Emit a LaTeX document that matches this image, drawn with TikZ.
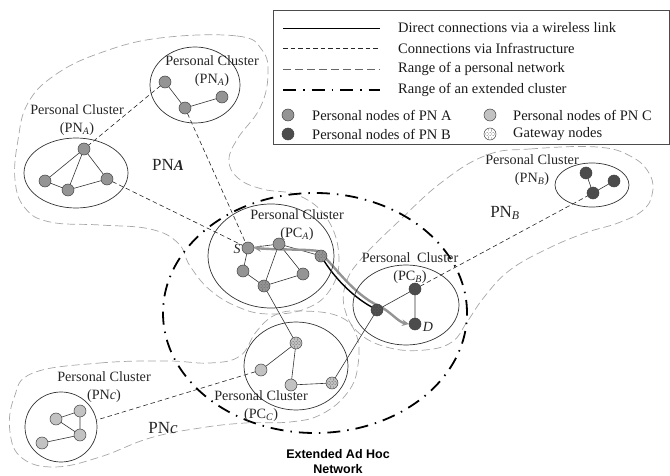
\documentclass[tikz,border=0pt]{standalone}
\usepackage{fontspec}
\setmainfont{Liberation Serif}
\setsansfont{Liberation Sans}
\usetikzlibrary{shapes.geometric,arrows.meta}
\pgfdeclarelayer{bg}
\pgfsetlayers{bg,main}
\newcommand{\subit}[1]{\textsubscript{\itshape #1}}
\begin{document}
\begin{tikzpicture}[x=1pt,y=-1pt,
  pnode/.style={circle,draw=black!75,line width=0.5pt,minimum size=12pt,inner sep=0pt,outer sep=0pt},
  pa/.style={pnode,fill=black!42},
  pb/.style={pnode,fill=black!70},
  pc/.style={pnode,fill=black!24},
  gwnode/.style={path picture={\foreach \dx/\dy in {-3/-1.5,0/-1.5,3/-1.5,-3/1.5,0/1.5,3/1.5,-1.5/-4,1.5/-4,-1.5/0,1.5/0,-1.5/4,1.5/4,-4.5/0,4.5/0,-1.5/-3,1.5/3}
      \fill[black!62] ([shift={(\dx pt,\dy pt)}]path picture bounding box.center) circle (0.5pt);}},
  clusterell/.style={ellipse,draw=black!80,line width=0.7pt,inner sep=0pt,outer sep=0pt},
  wlink/.style={draw=black!80,line width=0.6pt},
  wirethick/.style={draw=black,line width=1.4pt},
  infra/.style={draw=black!85,line width=0.6pt,dash pattern=on 4.5pt off 3pt},
  pnrange/.style={draw=black!35,line width=0.7pt,dash pattern=on 8pt off 4pt},
  extrange/.style={draw=black,line width=1.8pt,dash pattern=on 13pt off 7pt on 1.5pt off 7pt},
  sdroute/.style={draw=black!42,line width=2.4pt,{Stealth[length=7pt,width=6.5pt]}-{Stealth[length=7pt,width=6.5pt]}},
  lbl/.style={font=\fontsize{14.2}{18}\selectfont,text=black!85,inner sep=0pt,align=center},
  biglbl/.style={font=\fontsize{17}{18}\selectfont,text=black!85,inner sep=0pt},
  legtext/.style={font=\fontsize{14.5}{16}\selectfont,text=black!90,inner sep=0pt,anchor=west}
]
\useasboundingbox (0,0) rectangle (670,476);

% ---------- legend ----------
\node[draw=black!70,line width=0.8pt,minimum width=396pt,minimum height=134pt,inner sep=0pt,anchor=north west] (legend) at (273,10) {};
\coordinate (l1a) at (283,28); \coordinate (l1b) at (380,28);
\coordinate (l2a) at (283,48); \coordinate (l2b) at (380,48);
\coordinate (l3a) at (283,69); \coordinate (l3b) at (380,69);
\coordinate (l4a) at (283,90); \coordinate (l4b) at (380,90);
\draw[wlink,draw=black] (l1a) -- (l1b);
\draw[infra] (l2a) -- (l2b);
\draw[pnrange,draw=black!60] (l3a) -- (l3b);
\draw[extrange] (l4a) -- (l4b);
\node[legtext] (lt1) at (398,28) {Direct connections via a wireless link};
\node[legtext] (lt2) at (398,48) {Connections via Infrastructure};
\node[legtext] (lt3) at (398,69) {Range of a personal network};
\node[legtext] (lt4) at (398,90) {Range of an extended cluster};
\node[pa] (lgA) at (288,115) {};
\node[pb] (lgB) at (288,134) {};
\node[pc] (lgC) at (490,115) {};
\node[pnode,fill=white,gwnode] (lgG) at (490,134) {};
\node[legtext] (lt5) at (312,115) {Personal nodes of PN A};
\node[legtext] (lt6) at (312,134) {Personal nodes of PN B};
\node[legtext] (lt7) at (513,115) {Personal nodes of PN C};
\node[legtext] (lt8) at (513,134) {Gateway nodes};

% ---------- extended cluster ----------
\node[ellipse,extrange,minimum width=304pt,minimum height=240pt,inner sep=0pt] (extc) at (315,313) {};

% ---------- clusters ----------
\node[clusterell,minimum width=90pt,minimum height=76pt] (clA1) at (195,85) {};
\node[clusterell,minimum width=104pt,minimum height=70pt] (clA2) at (76,173) {};
\node[clusterell,minimum width=126pt,minimum height=104pt] (clPCA) at (271,256) {};
\node[clusterell,minimum width=106pt,minimum height=80pt] (clPCB) at (406,305) {};
\node[clusterell,minimum width=74pt,minimum height=44pt] (clB1) at (592,185) {};
\node[clusterell,minimum width=104pt,minimum height=88pt] (clPCC) at (296,366) {};
\node[clusterell,minimum width=72pt,minimum height=70pt] (clC1) at (61,427) {};

% ---------- nodes ----------
\node[pa] (a1) at (165,82) {};
\node[pa] (a2) at (185,108) {};
\node[pa] (a3) at (222,97) {};
\node[pa] (b1) at (84,149) {};
\node[pa] (b2) at (45,181) {};
\node[pa] (b3) at (68,190) {};
\node[pa] (b4) at (107,179) {};
\node[pa] (S) at (248,248) {};
\node[pa] (p2) at (279,244) {};
\node[pa,gwnode] (p3) at (321,256) {};
\node[pa] (p4) at (243,271) {};
\node[pa] (p5) at (303,274) {};
\node[pa,gwnode] (p6) at (264,286) {};
\node[pb,gwnode] (gwb) at (377,310) {};
\node[pb] (bt) at (415,289) {};
\node[pb] (D) at (415,324) {};
\node[pb] (n1) at (586,173) {};
\node[pb] (n2) at (614,181) {};
\node[pb] (n3) at (593,193) {};
\node[pc,gwnode] (c1) at (296,343) {};
\node[pc] (c2) at (261,370) {};
\node[pc] (c3) at (291,385) {};
\node[pc,gwnode] (c4) at (332,383) {};
\node[pc] (m1) at (56,419) {};
\node[pc] (m2) at (80,411) {};
\node[pc] (m3) at (80,435) {};
\node[pc] (m4) at (42,443) {};

% ---------- labels ----------
\node[lbl] (tA1) at (212,71) {Personal Cluster\\(PN\subit{A})};
\node[lbl] (tA2) at (77,120) {Personal Cluster\\(PN\subit{A})};
\node[lbl] (tPCA) at (297,225) {Personal Cluster\\(PC\subit{A})};
\node[lbl] (tPCB) at (410,268) {Personal\hspace{3pt} Cluster\\(PC\subit{B})};
\node[lbl] (tB1) at (532,170) {Personal Cluster\\(PN\subit{B})};
\node[lbl] (tC1) at (104,387) {Personal Cluster\\(PN\textit{c})};
\node[lbl] (tPCC) at (261,406) {Personal Cluster\\(PC\subit{C})};
\node[biglbl] (bigA) at (168,165) {PN{\fontsize{15}{15}\selectfont\bfseries\itshape A}};
\node[biglbl] (bigB) at (505,213) {PN\subit{B}};
\node[biglbl] (bigC) at (163,428) {PN\textit{c}};
\node[lbl,font=\fontsize{14}{14}\selectfont\itshape] (Slab) at (237,249) {S};
\node[lbl,font=\fontsize{14}{14}\selectfont\itshape] (Dlab) at (428,327) {D};
\node[font=\sffamily\bfseries\fontsize{12.5}{15}\selectfont,align=center,inner sep=0pt] (extlab) at (338,462) {Extended Ad Hoc\\Network};

\coordinate (rA) at (318,251);
\coordinate (rB) at (379,306);

\begin{pgfonlayer}{bg}
% ranges of personal networks
\draw[pnrange] plot[smooth cycle,tension=0.7] coordinates {
 (160,38) (237,36) (262,50) (268,75) (260,108) (238,138) (229,160) (238,178)
 (262,189) (300,196) (328,220) (339,258) (330,290) (305,309) (268,314) (238,307)
 (210,290) (190,266) (178,243) (150,229) (100,225) (50,222) (25,208) (15,180)
 (18,140) (28,103) (55,75) (100,53)};
\draw[pnrange] plot[smooth cycle,tension=0.7] coordinates {
 (487,155) (530,149) (597,147) (632,157) (650,175) (652,195) (642,211) (618,223)
 (585,233) (547,249) (510,270) (485,296) (467,322) (452,342) (425,350) (390,348)
 (360,334) (345,310) (346,283) (362,258) (398,222) (442,182)};
\draw[pnrange] plot[smooth cycle,tension=0.7] coordinates {
 (33,373) (100,363) (167,361) (210,363) (240,356) (256,332) (275,315) (300,311)
 (338,316) (356,334) (358,365) (348,392) (322,414) (290,422) (245,423) (200,428)
 (150,438) (100,457) (55,467) (22,458) (10,432) (14,398)};

% wireless links
\draw[wlink] (a1) -- (a2) -- (a3);
\draw[wlink] (b1) -- (b2) -- (b3) -- (b4) -- (b1) -- (b3);
\draw[wlink] (S) -- (p2) -- (p6) -- (p4) -- (S);
\draw[wlink] (p2) -- (p5) -- (p6);
\draw[wlink] (p2) -- (p3);
\draw[wlink] (gwb) -- (bt) -- (D);
\draw[wlink] (n1) -- (n3) -- (n2);
\draw[wlink] (c2) -- (c1) -- (c3) -- (c4);
\draw[wlink] (m1) -- (m2) -- (m3) -- (m1);
\draw[wlink] (m3) -- (m4);
\draw[wlink] (p6) -- (c1);
\draw[wlink] (c4) -- (gwb);

% infrastructure connections
\draw[infra] (a1) -- (b1);
\draw[infra] (a2) -- (S);
\draw[infra] (b4) -- (S);
\draw[infra] (bt) -- (n3);
\draw[infra] (c2) -- (clC1.11);

% route S <-> D
\draw[sdroute] (S.east) .. controls (280,250) and (305,249) .. (rA)
  .. controls (332,262) and (352,294) .. (rB)
  .. controls (390,311) and (398,322) .. (D.west);
\draw[wirethick] (p3) .. controls (333,275) and (350,295) .. (gwb);
\end{pgfonlayer}
\end{tikzpicture}
\end{document}
